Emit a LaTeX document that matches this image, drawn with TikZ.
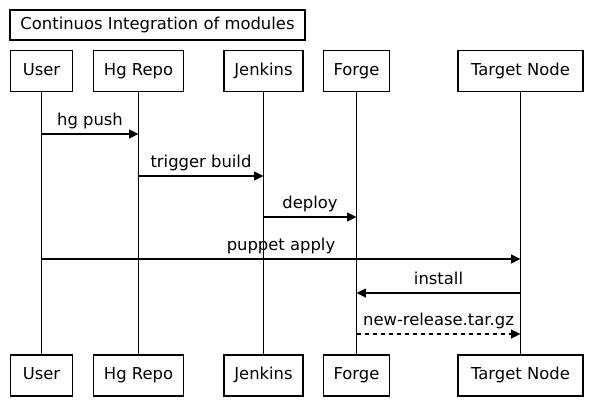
\documentclass[tikz,border=0pt]{standalone}
\usepackage{fontspec}
\setmainfont{DejaVu Sans}
\usetikzlibrary{arrows.meta,calc}
\begin{document}
\begin{tikzpicture}[x=0.75pt,y=-0.75pt,
  every node/.style={font=\fontsize{12.3}{14}\selectfont},
  box/.style={draw=black,line width=1.3pt,fill=white,inner sep=0pt,text height=9pt,text depth=2.6pt,minimum height={41*0.75pt}},
  titlebox/.style={draw=black,line width=1.3pt,inner sep=0pt,text height=9pt,text depth=2.6pt,minimum width={295*0.75pt},minimum height={30*0.75pt}},
  lifeline/.style={draw=black,line width=1pt},
  msg/.style={draw=black,line width=1.1pt,-{Triangle[length=7pt,width=6.5pt]}},
  retmsg/.style={msg,dash pattern=on 3.5pt off 2.5pt},
  lbl/.style={anchor=south,inner sep=3.5pt,text height=9pt,text depth=2.6pt}]
\useasboundingbox (0,0) rectangle (614,415);
\node[titlebox] (title) at (157.5,25) {Continuos Integration of modules};
% participants
\foreach \n/\t/\x/\w in {u/User/41.5/62, h/Hg Repo/138.5/90, j/Jenkins/263.5/79, f/Forge/356.5/66, t/Target Node/520.5/125}{
  \node[box,minimum width={\w*0.75pt}] (\n T) at (\x,71) {\t};
  \node[box,minimum width={\w*0.75pt}] (\n B) at (\x,375.5) {\t};
}
\foreach \n in {u,h,j,f,t}{
  \draw[lifeline] (\n T.south) -- (\n B.north);
}
% message endpoints
\coordinate (m1a) at (uT.south |- 0,134);
\coordinate (m1b) at (hT.south |- 0,134);
\coordinate (m2a) at (hT.south |- 0,176);
\coordinate (m2b) at (jT.south |- 0,176);
\coordinate (m3a) at (jT.south |- 0,217);
\coordinate (m3b) at (fT.south |- 0,217);
\coordinate (m4a) at (uT.south |- 0,259);
\coordinate (m4b) at (tT.south |- 0,259);
\coordinate (m5a) at (tT.south |- 0,293);
\coordinate (m5b) at (fT.south |- 0,293);
\coordinate (m6a) at (fT.south |- 0,334);
\coordinate (m6b) at (tT.south |- 0,334);
\draw[msg] (m1a) -- node[lbl] (l1) {hg push} (m1b);
\draw[msg] (m2a) -- node[lbl] (l2) {trigger build} (m2b);
\draw[msg] (m3a) -- node[lbl] (l3) {deploy} (m3b);
\draw[msg] (m4a) -- node[lbl] (l4) {puppet apply} (m4b);
\draw[msg] (m5a) -- node[lbl] (l5) {install} (m5b);
\draw[retmsg] (m6a) -- node[lbl] (l6) {new-release.tar.gz} (m6b);
\end{tikzpicture}
\end{document}
